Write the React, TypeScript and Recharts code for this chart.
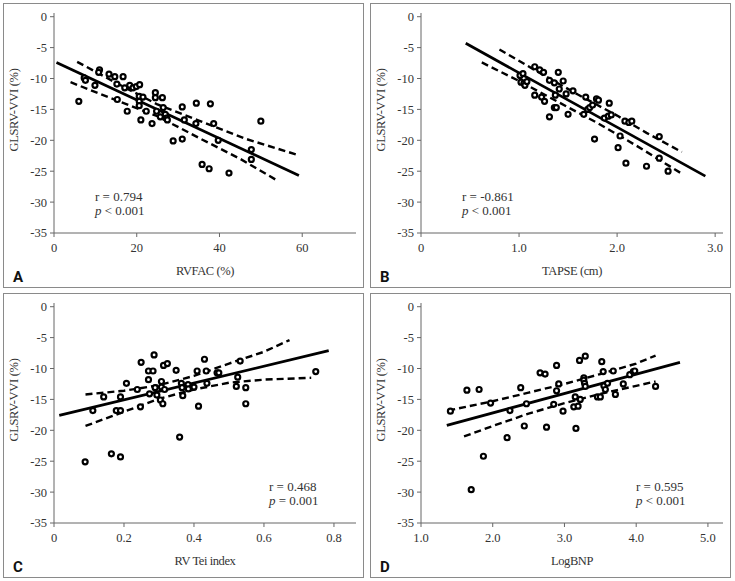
import React from "react";
import { ScatterChart, Scatter, XAxis, YAxis } from "recharts";

type Pt = [number, number];

const Y_TICKS = [0, -5, -10, -15, -20, -25, -30, -35];

// A: RVFAC (%)
const rvfacPoints: Pt[] = [
  [6.0, -13.7], [7.3, -9.9], [7.6, -10.3], [9.9, -11.1], [11.0, -8.6], [10.8, -9.0],
  [13.3, -9.3], [14.7, -9.7], [15.2, -10.9], [16.7, -9.7], [15.3, -13.4], [17.1, -11.5],
  [17.7, -15.3], [18.3, -11.1], [19.1, -11.5], [19.9, -11.3], [20.7, -11.0], [20.6, -12.9],
  [20.6, -13.7], [20.6, -14.4], [21.0, -16.7], [21.5, -13.0], [22.3, -15.3], [23.7, -17.3],
  [24.5, -12.3], [24.5, -13.1], [24.8, -15.3], [25.7, -16.2], [26.2, -13.1], [26.4, -14.7],
  [26.9, -15.8], [27.2, -16.4], [27.4, -16.7], [28.8, -20.1], [31.0, -14.6], [31.0, -19.8],
  [31.5, -16.7], [34.3, -17.3], [34.4, -14.0], [35.8, -23.9], [37.5, -24.6], [37.8, -14.1],
  [38.6, -17.3], [39.7, -20.0], [42.3, -25.3], [47.7, -21.5], [47.7, -23.1], [50.0, -16.9],
];
const rvfacFit: Pt[] = [[0.6, -7.4], [59.2, -25.7]];
const rvfacUpper: Pt[] = [[5.6, -7.3], [15, -10.7], [25, -14.2], [35, -16.8], [46.5, -19.8], [58.6, -22.3]];
const rvfacLower: Pt[] = [[4.0, -10.6], [15, -13.5], [25, -16.1], [35, -19.6], [45, -23.0], [54.2, -26.6]];

// B: TAPSE (cm)
const tapsePoints: Pt[] = [
  [1.01, -9.5], [1.02, -10.6], [1.04, -9.2], [1.05, -10.8], [1.06, -11.1], [1.08, -10.5],
  [1.16, -12.7], [1.16, -8.1], [1.21, -8.6], [1.23, -13.0], [1.25, -9.0], [1.26, -13.7],
  [1.31, -10.3], [1.31, -16.2], [1.36, -10.7], [1.36, -14.7], [1.37, -12.7], [1.38, -14.7],
  [1.40, -9.0], [1.41, -11.7], [1.45, -10.4], [1.48, -12.5], [1.50, -15.8], [1.55, -12.0],
  [1.66, -15.8], [1.68, -13.0], [1.70, -15.0], [1.72, -14.7], [1.75, -14.3], [1.77, -19.8],
  [1.79, -13.3], [1.81, -13.5], [1.87, -16.4], [1.91, -16.1], [1.92, -14.0], [1.94, -15.9],
  [2.01, -21.2], [2.03, -19.3], [2.08, -16.9], [2.09, -23.7], [2.12, -17.1], [2.15, -16.9],
  [2.30, -24.2], [2.43, -19.4], [2.43, -22.9], [2.52, -25.0],
];
const tapseFit: Pt[] = [[0.456, -4.3], [2.9, -25.8]];
const tapseUpper: Pt[] = [[0.8, -5.3], [1.2, -9.0], [1.6, -12.6], [2.0, -16.0], [2.3, -18.8], [2.66, -21.9]];
const tapseLower: Pt[] = [[0.62, -7.4], [1.0, -10.4], [1.4, -13.8], [1.8, -17.2], [2.2, -20.9], [2.66, -25.4]];

// C: RV Tei index
const teiPoints: Pt[] = [
  [0.089, -25.1], [0.111, -16.8], [0.142, -14.6], [0.164, -23.8], [0.178, -16.8], [0.19, -14.6],
  [0.19, -16.8], [0.19, -24.3], [0.207, -12.4], [0.238, -13.4], [0.247, -16.2], [0.249, -9.0],
  [0.27, -10.4], [0.27, -11.8], [0.273, -14.1], [0.283, -10.4], [0.286, -7.8], [0.289, -13.1],
  [0.294, -14.3], [0.307, -12.1], [0.307, -13.0], [0.304, -15.1], [0.311, -15.7], [0.313, -9.5],
  [0.316, -13.4], [0.324, -9.2], [0.349, -10.3], [0.359, -21.1], [0.364, -12.4], [0.366, -13.1],
  [0.368, -14.4], [0.383, -12.6], [0.384, -13.3], [0.4, -13.0], [0.409, -10.4], [0.413, -16.1],
  [0.43, -8.5], [0.435, -10.4], [0.437, -12.4], [0.466, -10.7], [0.471, -10.7], [0.521, -12.9],
  [0.525, -11.4], [0.532, -8.8], [0.548, -13.1], [0.548, -15.7], [0.748, -10.5],
];
const teiFit: Pt[] = [[0.015, -17.6], [0.785, -7.1]];
const teiUpper: Pt[] = [[0.09, -14.2], [0.2, -13.6], [0.3, -12.7], [0.4, -11.2], [0.5, -9.2], [0.6, -7.3], [0.673, -5.4]];
const teiLower: Pt[] = [[0.09, -19.3], [0.2, -17.0], [0.3, -14.9], [0.4, -13.4], [0.5, -12.3], [0.6, -11.8], [0.735, -11.5]];

// D: LogBNP
const bnpPoints: Pt[] = [
  [1.41, -16.9], [1.64, -13.5], [1.70, -29.6], [1.81, -13.4], [1.87, -24.2], [1.97, -15.6],
  [2.20, -21.2], [2.24, -16.8], [2.39, -13.1], [2.44, -19.3], [2.47, -15.7], [2.66, -10.7],
  [2.73, -10.9], [2.75, -19.5], [2.85, -15.8], [2.89, -9.5], [2.89, -13.6], [2.92, -12.5],
  [2.98, -16.9], [3.13, -16.2], [3.15, -14.6], [3.16, -19.7], [3.19, -16.1], [3.21, -8.7],
  [3.22, -15.0], [3.29, -8.0], [3.27, -11.5], [3.27, -11.9], [3.28, -12.4], [3.29, -12.9],
  [3.46, -14.6], [3.50, -14.6], [3.52, -8.9], [3.54, -10.5], [3.55, -12.8], [3.57, -13.4],
  [3.60, -12.4], [3.68, -10.4], [3.71, -14.2], [3.82, -12.5], [3.91, -11.0], [3.96, -10.5],
  [3.98, -10.4], [4.27, -12.9],
];
const bnpFit: Pt[] = [[1.36, -19.2], [4.61, -9.0]];
const bnpUpper: Pt[] = [[1.38, -16.8], [2.0, -15.3], [2.5, -13.9], [3.0, -12.5], [3.5, -10.9], [4.0, -9.2], [4.27, -7.9]];
const bnpLower: Pt[] = [[1.6, -21.0], [2.0, -19.3], [2.5, -17.3], [3.0, -15.6], [3.5, -14.1], [4.0, -12.8], [4.27, -12.1]];

const FONT = '"Liberation Serif", "Times New Roman", serif';
const INK = "#222";
const AXIS = "#666";

const toXY = (pts: Pt[]) => pts.map(([x, y]) => ({ x, y }));

const Dot = (props: any) => (
  <circle cx={props.cx} cy={props.cy} r={2.5} fill="#fff" stroke="#000" strokeWidth={2.2} />
);
const NoDot = () => <g />;

type PanelProps = {
  left: number;
  top: number;
  letter: string;
  xLabel: string;
  xDomain: [number, number];
  xTicks: number[];
  xFmt: (v: number) => string;
  points: Pt[];
  fit: Pt[];
  upper: Pt[];
  lower: Pt[];
  rText: string;
  pOp: string;
  statsLeft: number;
};

const Panel = (p: PanelProps) => {
  const tick = { fontFamily: FONT, fontSize: 12.5, fill: "#333" };
  return (
    <div
      style={{
        position: "absolute",
        left: p.left,
        top: p.top,
        width: 361,
        height: 285,
        boxSizing: "border-box",
        border: "1px solid #8a8a8a",
        fontFamily: FONT,
        color: INK,
      }}
    >
      <ScatterChart width={359} height={283} margin={{ top: 9, right: 7, bottom: 0, left: 0 }}>
        <XAxis
          type="number"
          dataKey="x"
          domain={p.xDomain}
          ticks={p.xTicks}
          tickFormatter={p.xFmt}
          allowDataOverflow
          height={54}
          tickSize={4}
          tickMargin={6}
          stroke={AXIS}
          tick={tick}
        />
        <YAxis
          type="number"
          dataKey="y"
          domain={[-35, 0.6]}
          ticks={Y_TICKS}
          allowDataOverflow
          width={50}
          tickSize={4}
          tickMargin={3}
          stroke={AXIS}
          tick={tick}
        />
        <Scatter
          data={toXY(p.upper)}
          shape={NoDot}
          line={{ stroke: "#000", strokeWidth: 2.4, strokeDasharray: "7 4" }}
          isAnimationActive={false}
        />
        <Scatter
          data={toXY(p.lower)}
          shape={NoDot}
          line={{ stroke: "#000", strokeWidth: 2.4, strokeDasharray: "7 4" }}
          isAnimationActive={false}
        />
        <Scatter
          data={toXY(p.fit)}
          shape={NoDot}
          line={{ stroke: "#000", strokeWidth: 2.8 }}
          isAnimationActive={false}
        />
        <Scatter data={toXY(p.points)} shape={Dot} isAnimationActive={false} />
      </ScatterChart>
      <div
        style={{
          position: "absolute",
          left: 10,
          top: 106,
          transform: "translate(-50%, -50%) rotate(-90deg)",
          whiteSpace: "nowrap",
          fontSize: 12.5,
          letterSpacing: -0.3,
          color: "#333",
        }}
      >
        GLSRV-VVI (%)
      </div>
      <div
        style={{
          position: "absolute",
          left: 201,
          top: 267,
          transform: "translate(-50%, -50%)",
          whiteSpace: "nowrap",
          fontSize: 12.5,
          letterSpacing: -0.4,
          color: "#333",
        }}
      >
        {p.xLabel}
      </div>
      <div
        style={{
          position: "absolute",
          left: p.statsLeft,
          top: 186,
          fontSize: 13,
          lineHeight: "13.5px",
          color: "#333",
          whiteSpace: "nowrap",
        }}
      >
        <div>{p.rText}</div>
        <div>
          <i>p</i> {p.pOp}
        </div>
      </div>
      <div
        style={{
          position: "absolute",
          left: 9,
          top: 266,
          fontFamily: '"Liberation Sans Narrow", "Roboto", "Liberation Sans", sans-serif',
          fontWeight: 700,
          fontSize: 15,
          lineHeight: "15px",
          color: "#111",
        }}
      >
        {p.letter}
      </div>
    </div>
  );
};

const fmt0 = (v: number) => String(v);
const fmt1 = (v: number) => (v === 0 ? "0" : v.toFixed(1));

export default function App() {
  return (
    <div style={{ position: "absolute", left: 0, top: 0, width: 735, height: 581, background: "#fff" }}>
      <Panel
        left={3}
        top={3}
        letter="A"
        xLabel="RVFAC (%)"
        xDomain={[0, 73]}
        xTicks={[0, 20, 40, 60]}
        xFmt={fmt0}
        points={rvfacPoints}
        fit={rvfacFit}
        upper={rvfacUpper}
        lower={rvfacLower}
        rText="r = 0.794"
        pOp="< 0.001"
        statsLeft={91}
      />
      <Panel
        left={370}
        top={3}
        letter="B"
        xLabel="TAPSE (cm)"
        xDomain={[0, 3.08]}
        xTicks={[0, 1, 2, 3]}
        xFmt={fmt1}
        points={tapsePoints}
        fit={tapseFit}
        upper={tapseUpper}
        lower={tapseLower}
        rText="r = -0.861"
        pOp="< 0.001"
        statsLeft={91}
      />
      <Panel
        left={3}
        top={293}
        letter="C"
        xLabel="RV Tei index"
        xDomain={[0, 0.863]}
        xTicks={[0, 0.2, 0.4, 0.6, 0.8]}
        xFmt={fmt1}
        points={teiPoints}
        fit={teiFit}
        upper={teiUpper}
        lower={teiLower}
        rText="r = 0.468"
        pOp="= 0.001"
        statsLeft={265}
      />
      <Panel
        left={370}
        top={293}
        letter="D"
        xLabel="LogBNP"
        xDomain={[1, 5.21]}
        xTicks={[1, 2, 3, 4, 5]}
        xFmt={(v: number) => v.toFixed(1)}
        points={bnpPoints}
        fit={bnpFit}
        upper={bnpUpper}
        lower={bnpLower}
        rText="r = 0.595"
        pOp="< 0.001"
        statsLeft={265}
      />
    </div>
  );
}
